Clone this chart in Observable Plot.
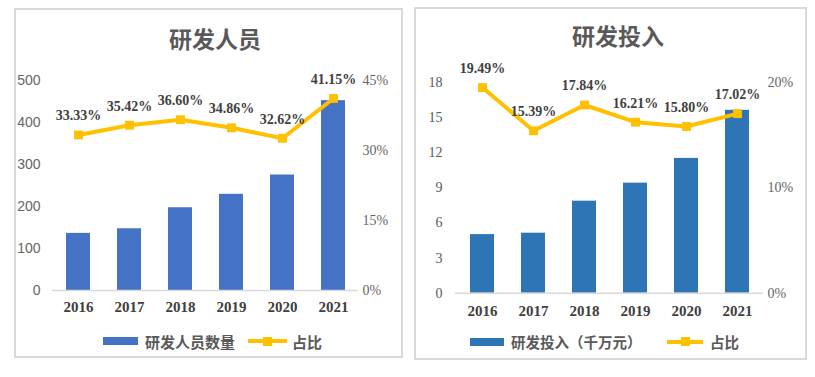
<!DOCTYPE html>
<html><head><meta charset="utf-8">
<script src="https://cdn.jsdelivr.net/npm/d3@7"></script>
<script src="https://cdn.jsdelivr.net/npm/@observablehq/plot@0.6"></script>
<style>
body{margin:0;background:#fff;width:815px;height:377px;position:relative;overflow:hidden;font-family:"Noto Sans CJK SC",sans-serif}
.panel{position:absolute;border:2px solid #d9d9d9;box-sizing:border-box}
.title{position:absolute;font-weight:bold;font-size:23px;color:#595959;transform:translate(-50%,-50%);white-space:nowrap;line-height:1}
.chart{position:absolute}
.lt{position:absolute;font-weight:bold;color:#595959;white-space:nowrap;line-height:1;transform:translateY(-50%)}
.sw{position:absolute}
</style></head>
<body>
<script>
const years = ["2016","2017","2018","2019","2020","2021"];
const staffCount = [136,147,197,229,275,452];
const staffShare = [33.33,35.42,36.60,34.86,32.62,41.15];
const rdSpend = [5.0,5.12,7.85,9.39,11.5,15.6];
const rdShare = [19.49,15.39,17.84,16.21,15.80,17.02];
const staffLeftTicks = [0,100,200,300,400,500];
const staffRightTicks = [0,15,30,45];
const spendLeftTicks = [0,3,6,9,12,15,18];
const spendRightTicks = [0,10,20];
const titles = ["研发人员","研发投入"];
const legendBars = ["研发人员数量","研发投入（千万元）"];
const legendLine = "占比";

function makeChart(o){
  const k = o.yMax/o.pMax;
  const data = years.map((y,i)=>({year:y, v:o.bars[i], p:o.shares[i], py:o.shares[i]*k}));
  return Plot.plot({
    width:o.width, height:o.height,
    marginLeft:o.ml, marginRight:o.mr, marginTop:o.mt, marginBottom:o.mb,
    style:{background:"transparent", overflow:"visible"},
    x:{domain:years, paddingInner:0.53, paddingOuter:0.265, label:null},
    y:{domain:[0,o.yMax], label:null},
    marks:[
      Plot.axisY({ticks:o.leftTicks, tickSize:0, tickPadding:o.lp, label:null,
        fontSize:14, fontFamily:o.leftFont, fill:o.leftColor}),
      Plot.axisY({anchor:"right", ticks:o.rightTicks.map(t=>t*k), tickFormat:d=>Math.round(d/k)+"%",
        tickSize:0, tickPadding:o.rp, label:null, fontSize:14, fontFamily:"Liberation Serif", fill:"#666"}),
      Plot.axisX({tickSize:0, tickPadding:o.xp, label:null, fontSize:15, fontWeight:"bold",
        fontFamily:"Liberation Serif", fill:"#404040"}),
      Plot.barY(data,{x:"year", y:"v", fill:o.barColor}),
      Plot.ruleY([0],{stroke:"#d9d9d9", strokeWidth:1.5}),
      Plot.line(data,{x:"year", y:"py", stroke:"#FFC000", strokeWidth:4}),
      Plot.dot(data,{x:"year", y:"py", symbol:"square", r:5, fill:"#FFC000"}),
      Plot.text(data,{x:"year", y:"py", text:d=>d.p.toFixed(2)+"%", dy:-19, fontSize:14,
        fontWeight:"bold", fontFamily:"Liberation Serif", fill:"#404040"})
    ]
  });
}

function add(html){ const d=document.createElement("div"); d.innerHTML=html; const e=d.firstChild; document.body.appendChild(e); return e; }

function panel(p){
  add(`<div class="panel" style="left:${p.bx}px;top:${p.by}px;width:${p.bw}px;height:${p.bh}px"></div>`);
  add(`<div class="title" style="left:${p.tx}px;top:${p.ty}px">${p.title}</div>`);
  const c = add(`<div class="chart" style="left:${p.bx}px;top:${p.sy}px"></div>`);
  c.appendChild(makeChart(p));
  // legend
  add(`<div class="sw" style="left:${p.lr[0]}px;top:${p.ly-4}px;width:${p.lr[1]-p.lr[0]}px;height:8px;background:${p.barColor}"></div>`);
  add(`<div class="lt" style="left:${p.lt1}px;top:${p.ly}px;font-size:${p.lfs}px">${p.legBar}</div>`);
  add(`<div class="sw" style="left:${p.ll[0]}px;top:${p.ly-2}px;width:${p.ll[1]-p.ll[0]}px;height:4px;background:#FFC000"></div>`);
  const mid=(p.ll[0]+p.ll[1])/2;
  add(`<div class="sw" style="left:${mid-4.5}px;top:${p.ly-4.5}px;width:9px;height:9px;background:#FFC000"></div>`);
  add(`<div class="lt" style="left:${p.lt2}px;top:${p.ly}px;font-size:${p.lfs}px">${legendLine}</div>`);
}

panel({bx:14, by:8, bw:389, bh:350, tx:215, ty:38, title:titles[0], sy:60,
  width:389, height:262, ml:38, mr:45, mt:20, mb:32, lp:12, rp:4, xp:11,
  yMax:500, pMax:45, bars:staffCount, shares:staffShare, barColor:"#4472C4",
  leftTicks:staffLeftTicks, rightTicks:staffRightTicks, leftFont:"Liberation Sans", leftColor:"#666",
  ly:341, lr:[103,138], lt1:145, ll:[248,287], lt2:292, lfs:15, legBar:legendBars[0]});

panel({bx:414, by:7, bw:393, bh:353, tx:618, ty:35, title:titles[1], sy:60,
  width:393, height:265, ml:41, mr:44, mt:21.7, mb:32.3, lp:13, rp:4, xp:12,
  yMax:18, pMax:20, bars:rdSpend, shares:rdShare, barColor:"#2E75B6",
  leftTicks:spendLeftTicks, rightTicks:spendRightTicks, leftFont:"Liberation Serif", leftColor:"#595959",
  ly:341.7, lr:[470,504], lt1:511, ll:[667,703], lt2:710, lfs:14.5, legBar:legendBars[1]});
</script>
</body></html>
